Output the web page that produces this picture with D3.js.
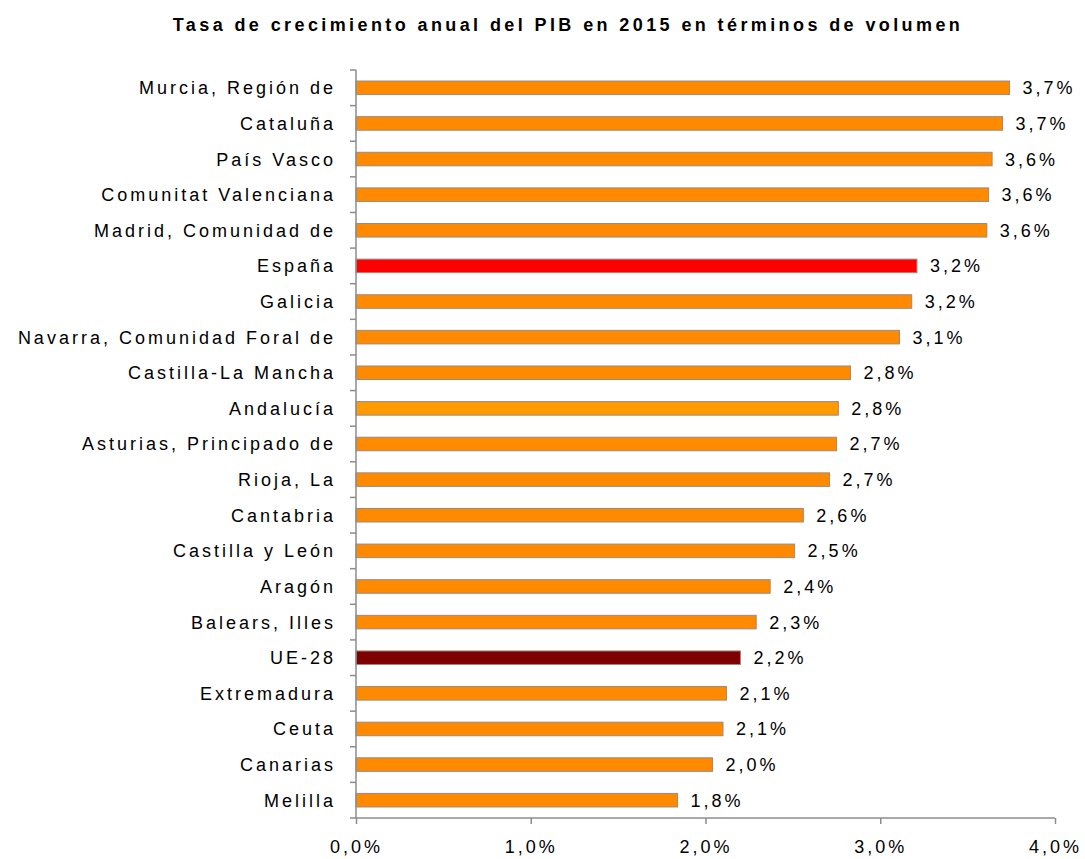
<!DOCTYPE html>
<html>
<head>
<meta charset="utf-8">
<script src="https://cdn.jsdelivr.net/npm/d3@7"></script>
<style>
  body { margin: 0; background: #fff; }
  svg { font-family: "Liberation Sans", Arial, sans-serif; }
</style>
</head>
<body>
<div id="chart"></div>
<script>
// Data
var regions = [
  "Murcia, Región de", "Cataluña", "País Vasco", "Comunitat Valenciana",
  "Madrid, Comunidad de", "España", "Galicia", "Navarra, Comunidad Foral de",
  "Castilla-La Mancha", "Andalucía", "Asturias, Principado de", "Rioja, La",
  "Cantabria", "Castilla y León", "Aragón", "Balears, Illes", "UE-28",
  "Extremadura", "Ceuta ", "Canarias", "Melilla"
];
var growth = [
  3.74, 3.70, 3.64, 3.62, 3.61, 3.21, 3.18, 3.11, 2.83, 2.76, 2.75, 2.71,
  2.56, 2.51, 2.37, 2.29, 2.20, 2.12, 2.10, 2.04, 1.84
];
var valueLabels = [
  "3,7%", "3,7%", "3,6%", "3,6%", "3,6%", "3,2%", "3,2%", "3,1%", "2,8%", "2,8%",
  "2,7%", "2,7%", "2,6%", "2,5%", "2,4%", "2,3%", "2,2%", "2,1%", "2,1%", "2,0%", "1,8%"
];
var xTicks = [0, 1, 2, 3, 4];
var xTickLabels = ["0,0%", "1,0%", "2,0%", "3,0%", "4,0%"];

var data = regions.map(function (r, i) {
  return { region: r, value: growth[i], label: valueLabels[i] };
});

function barColor(d) {
  if (d.region === "España") return "#ff0000";
  if (d.region === "UE-28") return "#7f0000";
  if (d.region === "Andalucía") return "#ff9a00";
  return "#ff8a00";
}

var width = 1085, height = 859;
var margin = { top: 70, right: 30, bottom: 41, left: 356 };
var innerW = width - margin.left - margin.right;
var innerH = height - margin.top - margin.bottom;

var svg = d3.select("#chart").append("svg")
  .attr("width", width)
  .attr("height", height);

svg.append("text")
  .attr("x", 568)
  .attr("y", 31)
  .attr("text-anchor", "middle")
  .style("font-size", "18px")
  .style("font-weight", "bold")
  .style("letter-spacing", "3.4px")
  .style("fill", "#000")
  .text("Tasa de crecimiento anual del PIB en 2015 en términos de volumen");

var g = svg.append("g")
  .attr("transform", "translate(" + margin.left + "," + margin.top + ")");

var x = d3.scaleLinear().domain([0, 4]).range([0, 699]);
var y = d3.scaleBand().domain(regions).range([0, innerH]).paddingInner(0.62).paddingOuter(0.31);

// bars
g.selectAll("rect.bar")
  .data(data)
  .enter()
  .append("rect")
  .attr("class", "bar")
  .attr("x", 0)
  .attr("y", function (d) { return y(d.region); })
  .attr("width", function (d) { return x(d.value); })
  .attr("height", y.bandwidth())
  .attr("fill", barColor)
  .attr("stroke", "#9a8a80")
  .attr("stroke-width", 1);

// value labels
g.selectAll("text.val")
  .data(data)
  .enter()
  .append("text")
  .attr("class", "val")
  .attr("x", function (d) { return x(d.value) + 13; })
  .attr("y", function (d) { return y(d.region) + y.bandwidth() / 2; })
  .attr("dy", "0.36em")
  .style("font-size", "18px")
  .style("letter-spacing", "3px")
  .style("fill", "#000")
  .text(function (d) { return d.label; });

// y axis: line with ticks between categories
var step = y.step();
g.append("line")
  .attr("x1", 0).attr("x2", 0)
  .attr("y1", 0).attr("y2", innerH)
  .attr("stroke", "#8c8c8c").attr("stroke-width", 1.5);

g.selectAll("line.ytick")
  .data(d3.range(regions.length + 1))
  .enter()
  .append("line")
  .attr("class", "ytick")
  .attr("x1", -6).attr("x2", 0)
  .attr("y1", function (i) { return i * step; })
  .attr("y2", function (i) { return i * step; })
  .attr("stroke", "#8c8c8c").attr("stroke-width", 1.5);

g.selectAll("text.cat")
  .data(data)
  .enter()
  .append("text")
  .attr("class", "cat")
  .attr("x", -20)
  .attr("y", function (d) { return y(d.region) + y.bandwidth() / 2; })
  .attr("dy", "0.36em")
  .attr("text-anchor", "end")
  .style("font-size", "18px")
  .style("letter-spacing", "3px")
  .style("fill", "#000")
  .text(function (d) { return d.region; });

// x axis
var xAxis = g.append("g")
  .attr("transform", "translate(0," + innerH + ")")
  .call(d3.axisBottom(x)
    .tickValues(xTicks)
    .tickSize(6)
    .tickPadding(16)
    .tickFormat(function (d, i) { return xTickLabels[i]; }));

xAxis.select(".domain").attr("stroke", "#8c8c8c").attr("stroke-width", 1.5)
  .attr("d", "M0,0H699");
xAxis.selectAll(".tick line").attr("stroke", "#8c8c8c").attr("stroke-width", 1.5);
xAxis.selectAll(".tick text")
  .style("font-size", "18px")
  .style("letter-spacing", "3px")
  .style("font-family", "'Liberation Sans', Arial, sans-serif")
  .style("fill", "#000");
</script>
</body>
</html>
